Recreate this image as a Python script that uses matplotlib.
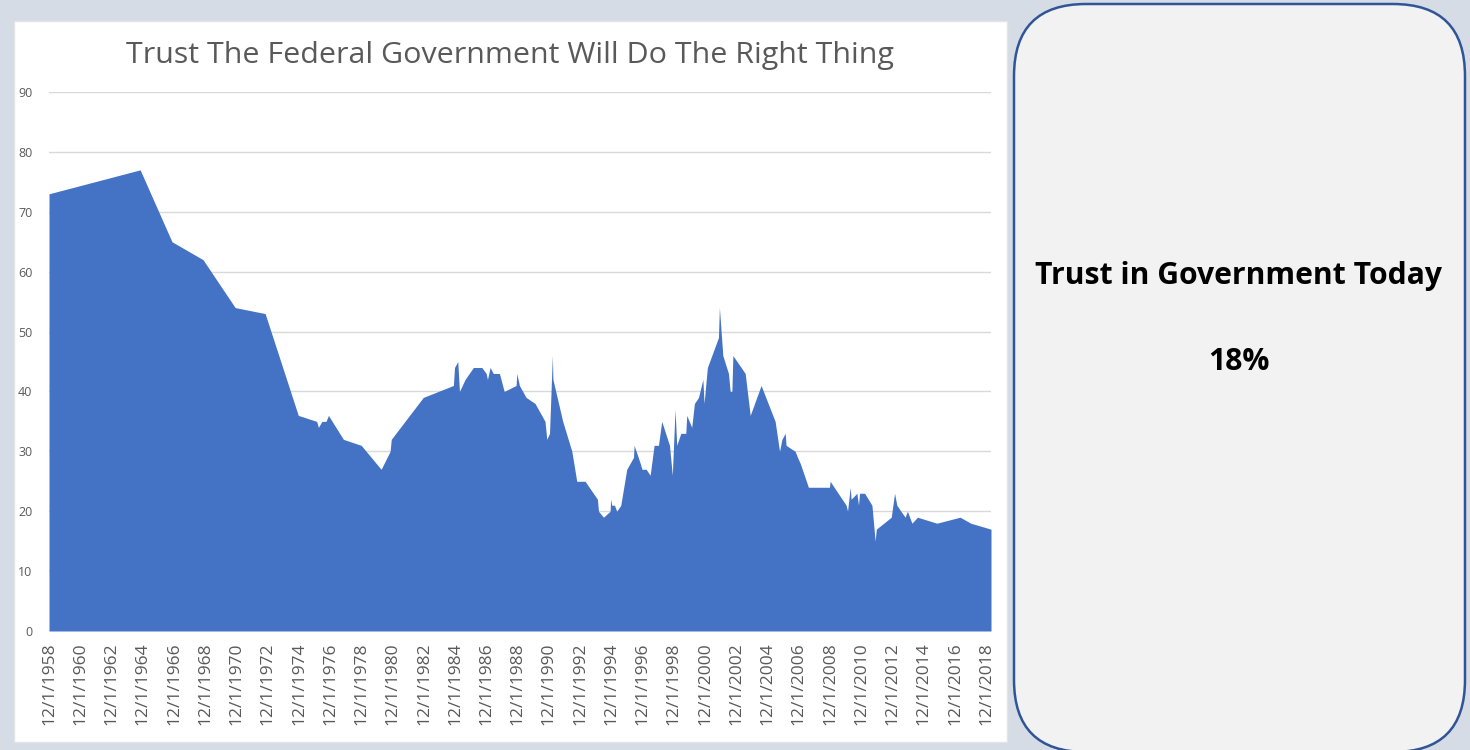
import pandas as pd
import matplotlib.pyplot as plt
from matplotlib.patches import FancyBboxPatch, Rectangle

# Survey dates and share (%) who trust the federal government
dates = [
    "1958-12-01", "1964-10-01", "1966-10-15", "1968-10-10", "1970-11-01", "1972-10-01",
    "1974-11-15", "1976-01-20", "1976-02-28", "1976-05-20", "1976-08-25", "1976-10-20",
    "1977-10-05", "1978-11-25", "1980-03-05", "1980-10-01", "1980-10-28", "1982-11-15",
    "1984-10-20", "1984-11-15", "1985-01-30", "1985-03-10", "1985-07-20", "1986-01-30",
    "1986-08-15", "1986-11-25", "1986-12-25", "1987-02-25", "1987-05-10", "1987-10-01",
    "1988-01-20", "1988-10-25", "1988-11-10", "1989-01-10", "1989-06-15", "1990-01-10",
    "1990-09-01", "1990-10-12", "1990-12-15", "1991-02-20", "1991-03-05", "1991-10-20",
    "1992-05-20", "1992-09-12", "1993-03-25", "1994-01-08", "1994-02-02", "1994-05-30",
    "1994-11-01", "1994-11-12", "1994-12-10", "1995-02-10", "1995-04-05", "1995-07-08",
    "1995-11-25", "1996-05-01", "1996-05-15", "1996-10-05", "1996-11-15", "1997-02-20",
    "1997-05-25", "1997-08-25", "1997-12-05", "1998-02-20", "1998-08-20", "1998-10-25",
    "1998-12-28", "1999-02-05", "1999-05-12", "1999-09-05", "1999-09-28", "2000-01-22",
    "2000-03-25", "2000-06-28", "2000-10-08", "2000-11-06", "2001-01-22", "2001-10-08",
    "2001-10-30", "2002-01-18", "2002-05-30", "2002-07-08", "2002-08-18", "2002-09-10",
    "2003-06-25", "2003-10-20", "2004-07-01", "2005-05-25", "2005-09-05", "2005-10-30",
    "2006-01-15", "2006-02-05", "2006-09-05", "2006-10-30", "2007-01-01", "2007-07-12",
    "2008-11-15", "2008-12-01", "2009-12-10", "2010-01-12", "2010-03-15", "2010-04-05",
    "2010-08-18", "2010-09-25", "2010-10-20", "2011-02-15", "2011-08-05", "2011-10-20",
    "2011-11-15", "2012-10-30", "2013-01-15", "2013-03-10", "2013-06-12", "2013-09-20",
    "2013-11-12", "2014-02-25", "2014-07-05", "2015-10-01", "2017-03-28", "2017-12-01",
    "2019-03-20",
]
trust = [
    73, 77, 65, 62, 54, 53,
    36, 35, 34, 35, 35, 36,
    32, 31, 27, 30, 32, 39,
    41, 44, 45, 40, 42, 44,
    44, 43, 42, 44, 43, 43,
    40, 41, 43, 41, 39, 38,
    35, 32, 33, 46, 42, 35,
    30, 25, 25, 22, 20, 19,
    20, 22, 21, 21, 20, 21,
    27, 29, 31, 28, 27, 27,
    26, 31, 31, 35, 31, 26,
    37, 31, 33, 33, 36, 34,
    38, 39, 42, 38, 44, 49,
    54, 46, 43, 40, 40, 46,
    43, 36, 41, 35, 30, 32,
    33, 31, 30, 29, 28, 24,
    24, 25, 21, 20, 24, 22,
    23, 21, 23, 23, 21, 15,
    17, 19, 23, 21, 20, 19,
    20, 18, 19, 18, 19, 18,
    17,
]
tick_years = list(range(1958, 2019, 2))
y_ticks = list(range(0, 91, 10))

title = "Trust The Federal Government Will Do The Right Thing"
box_title = "Trust in Government Today"
box_value = "18%"

x = pd.to_datetime(dates)
tick_dates = pd.to_datetime([f"{y}-12-01" for y in tick_years])
tick_labels = [f"{d.month}/{d.day}/{d.year}" for d in tick_dates]

W, H = 1470, 750
fig = plt.figure(figsize=(W / 100, H / 100), dpi=100)
fig.patch.set_facecolor("#D6DCE5")

# background layer in pixel units for the panels
bg = fig.add_axes([0, 0, 1, 1])
bg.set_xlim(0, W)
bg.set_ylim(H, 0)
bg.axis("off")
bg.add_patch(Rectangle((14, 21), 993, 721, facecolor="white", edgecolor="#E4E4E4", lw=1))
bg.add_patch(FancyBboxPatch((1014 + 72, 4 + 72), 451 - 144, 748 - 144,
                            boxstyle="round,pad=72", facecolor="#F2F2F2",
                            edgecolor="#2F5597", lw=1.8, mutation_aspect=1))
bg.text(1239, 276, box_title, ha="center", va="center", fontsize=21.7,
        fontweight="bold", family="Open Sans", color="black")
bg.text(1239, 362, box_value, ha="center", va="center", fontsize=21.7,
        fontweight="bold", family="Open Sans", color="black")

ax = fig.add_axes([49 / W, 1 - 631 / H, (991 - 49) / W, (631 - 92) / H])
ax.fill_between(x, trust, 0, color="#4472C4", lw=0)
ax.set_xlim(x.min(), x.max())
ax.set_ylim(0, 90)
ax.set_yticks(y_ticks)
ax.set_xticks(tick_dates)
ax.set_xticklabels(tick_labels, rotation=90, fontsize=12.5, color="#595959",
                   family="Open Sans")
ax.tick_params(axis="y", labelsize=9, labelcolor="#595959", length=0, pad=12)
ax.tick_params(axis="x", length=0, pad=8)
for lbl in ax.get_yticklabels():
    lbl.set_family("Open Sans")
ax.grid(axis="y", color="#D9D9D9", lw=1)
ax.set_axisbelow(True)
for s in ax.spines.values():
    s.set_visible(False)
ax.set_facecolor("none")

fig.text(510 / W, 1 - 55 / H, title, ha="center", va="center", fontsize=21.9,
         family="Open Sans", color="#595959")

fig.savefig("out.png", dpi=100)
